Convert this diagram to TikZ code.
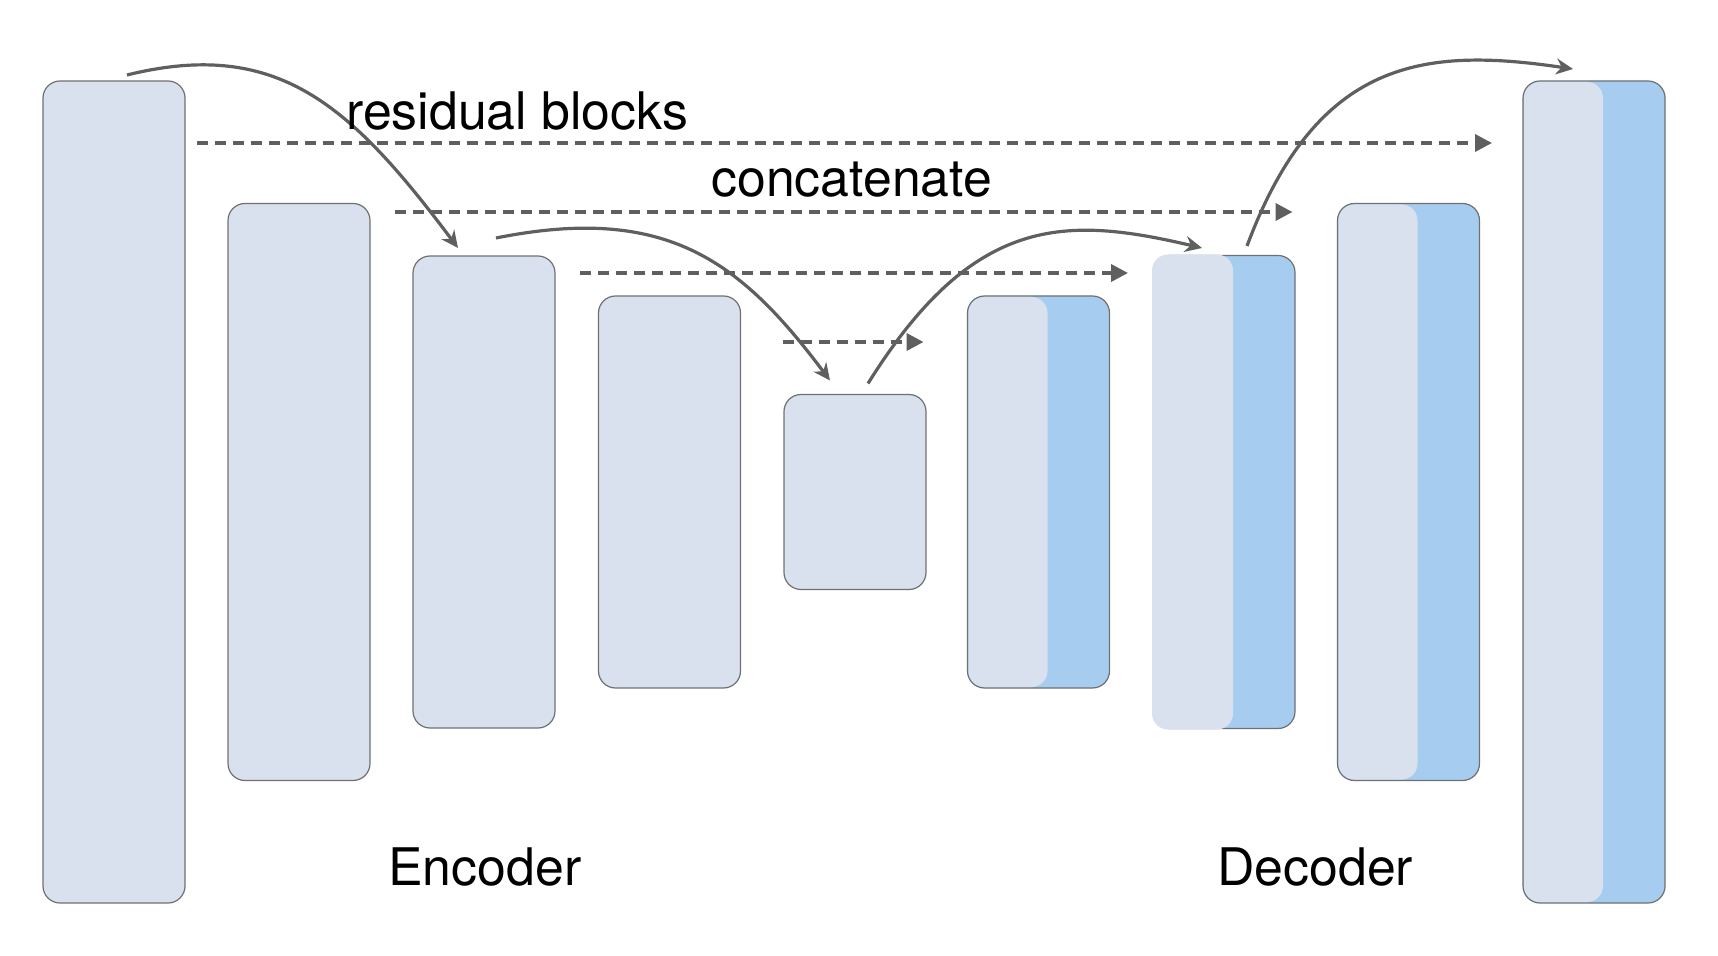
\documentclass[tikz,border=0pt]{standalone}
\usepackage{fontspec}
\setmainfont{TeX Gyre Heros}
\usetikzlibrary{arrows.meta}

\definecolor{blockgray}{HTML}{DAE1EE}
\definecolor{blockblue}{HTML}{A6CDEF}
\definecolor{edgegray}{HTML}{707070}
\definecolor{arrowgray}{HTML}{5F5F5F}

\tikzset{
  block/.style={draw=edgegray, line width=0.6pt, rounded corners=8.5pt, minimum width=71pt, inner sep=0pt, outer sep=0pt},
  skip/.style={arrowgray, line width=1.8pt, dash pattern=on 5.5pt off 3.5pt, -{Triangle[length=8.5pt, width=8.5pt]}},
  res/.style={arrowgray, line width=1.6pt, -{Stealth[length=8.5pt, width=8pt, inset=2.8pt]}},
  lbl/.style={font=\fontsize{25.9}{30}\selectfont, anchor=base west, inner sep=0pt}
}

\begin{document}
\begin{tikzpicture}[x=0.5pt, y=-0.5pt]
            \useasboundingbox (0,0) rectangle (1718,956);

            % encoder side
            \foreach \name/\x/\h in {E1/114/822, E2/299/577, E3/484/472, E4/669.5/392, B/855/195}
                \node[block, fill=blockgray, minimum height=0.5*\h pt] (\name) at (\x,492) {};

            % decoder side, light part on the left
            \foreach \name/\x/\h/\ins in {D1/1038.5/392/1, D2/1224/473/-1, D3/1408.5/577/1, D4/1594/822/1}{
                \node[block, fill=blockblue, minimum height=0.5*\h pt] (\name) at (\x,492) {};
                \fill[blockgray, rounded corners=8pt] ([shift={(\ins,-\ins)}]\name.south west) rectangle ([shift={(80,\ins)}]\name.north west);
            }

            \draw[skip] ([xshift=6pt]E1.east |- 0,143) -- ([xshift=-15.5pt]D4.west |- 0,143);
            \draw[skip] ([xshift=12.5pt]E2.east |- 0,212) -- ([xshift=-22.5pt]D3.west |- 0,212);
            \draw[skip] ([xshift=12.5pt]E3.east |- 0,273) -- ([xshift=-12.5pt]D2.west |- 0,273);
            \draw[skip] ([xshift=21pt]E4.east |- 0,342) -- ([xshift=-22pt]D1.west |- 0,342);

            \draw[res] ([shift={(13,-6)}]E1.north) .. controls +(150,-37) and +(-108,-144) .. ([shift={(-26,-8)}]E3.north);
            \draw[res] ([shift={(12,-18)}]E3.north) .. controls +(170,-34) and +(-90,-120) .. ([shift={(-25,-14)}]B.north);
            \draw[res] ([shift={(13,-11)}]B.north) .. controls +(106,-170) and +(-136,-32) .. ([shift={(-22,-7.5)}]D2.north);
            \draw[res] ([shift={(23,-9.5)}]D2.north) .. controls +(70,-188) and +(-148,-22) .. ([shift={(-21,-12)}]D4.north);

            \node[lbl] (res) at (346,130) {residual blocks};
            \node[lbl] (cat) at (711,197) {concatenate};
            \node[lbl] (enc) at (388,885) {Encoder};
            \node[lbl] (dec) at (1217,885) {Decoder};
        \end{tikzpicture}
\end{document}
